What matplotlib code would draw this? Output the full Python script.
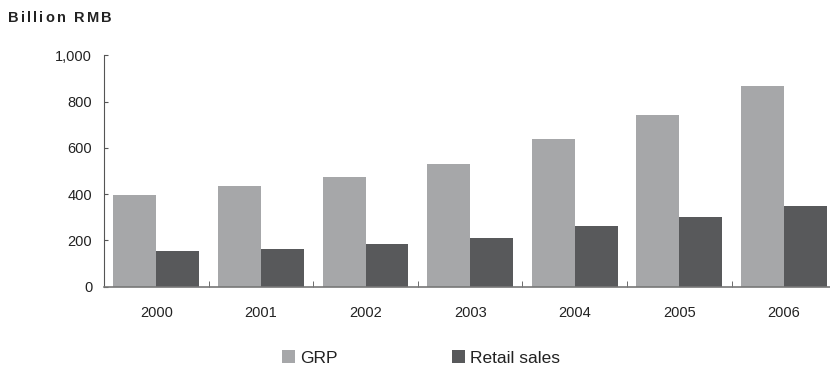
import matplotlib.pyplot as plt
import numpy as np

years = ['2000', '2001', '2002', '2003', '2004', '2005', '2006']
grp = [397, 436, 475, 531, 639, 743, 869]
retail = [155, 163, 185, 211, 263, 302, 349]

plt.rcParams['font.family'] = ['Liberation Sans', 'DejaVu Sans']

fig = plt.figure(figsize=(8.3, 3.68), dpi=100)
ax = fig.add_axes([0.1253, 0.2209, 0.8747, 0.6283])

x = np.arange(len(years))
w = 0.41
ax.bar(x - w / 2, grp, w, color='#a6a7a9', label='GRP')
ax.bar(x + w / 2, retail, w, color='#58595b', label='Retail sales')

ax.set_xlim(-0.5, 6.44)
ax.set_ylim(0, 1000)

# 坐标轴样式
for s in ['top', 'right']:
    ax.spines[s].set_visible(False)
ax.spines['left'].set_color('#555555')
ax.spines['bottom'].set_color('#777777')
ax.spines['bottom'].set_linewidth(1.2)

ax.set_yticks(range(0, 1001, 200))
ax.set_yticklabels(['0', '200', '400', '600', '800', '1,000'])
ax.tick_params(axis='y', direction='in', length=3, color='#555555',
               pad=8.5, labelsize=10.5, labelcolor='#222222')

ax.set_xticks(x)
ax.set_xticklabels(years)
ax.tick_params(axis='x', which='major', length=0, pad=14,
               labelsize=10.5, labelcolor='#222222')
ax.set_xticks(x[:-1] + 0.5, minor=True)
ax.tick_params(axis='x', which='minor', direction='in', length=4,
               color='#555555')

# 标题：逐字绘制，加字间距
renderer = fig.canvas.get_renderer()
px = 8
for ch in 'Billion RMB':
    t = fig.text(px / 830, 0.951, ch, fontsize=10.5, fontweight='bold',
                 color='#222222', va='center', ha='left')
    px += t.get_window_extent(renderer).width + 2.2

fig.legend(loc='center', bbox_to_anchor=(0.507, 0.027), ncol=2, frameon=False,
           fontsize=12.5, handlelength=0.75, handleheight=0.75, handletextpad=0.3,
           columnspacing=6.6, labelcolor='#222222')

fig.savefig('out.png', dpi=100)
